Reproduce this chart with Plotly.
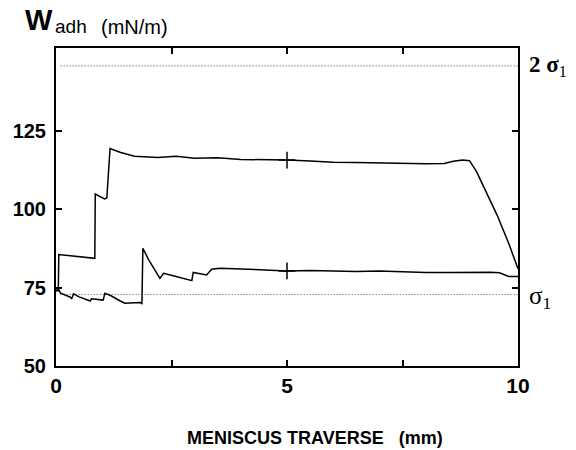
import plotly.graph_objects as go

# Data
upper_x = [0.0, 0.05, 0.06, 0.84, 0.85, 1.05, 1.1, 1.17, 1.4, 1.7, 2.2, 2.6, 3.0, 3.5, 4.0, 4.5,
           5.0, 5.5, 6.0, 6.5, 7.0, 7.5, 8.0, 8.4, 8.6, 8.8, 8.95, 9.1, 9.3, 9.55, 9.8, 10.0]
upper_y = [74, 74, 85.5, 84.3, 104.8, 103.2, 103.5, 119.3, 118, 116.8, 116.4, 116.8, 116.2, 116.3,
           115.8, 115.8, 115.6, 115.3, 114.9, 114.8, 114.6, 114.5, 114.4, 114.5, 115.2, 115.6,
           115.4, 112, 106, 98, 89, 81]

lower_x = [0.0, 0.05, 0.1, 0.3, 0.34, 0.38, 0.5, 0.74, 0.77, 1.02, 1.06, 1.2, 1.39, 1.49, 1.82,
           1.86, 1.88, 2.0, 2.25, 2.33, 2.6, 2.94, 2.97, 3.26, 3.37, 3.55, 4.0, 4.5, 5.0, 5.5,
           6.0, 6.5, 7.0, 7.5, 8.0, 8.5, 9.0, 9.4, 9.6, 9.8, 10.0]
lower_y = [74.5, 74.5, 73.2, 72, 71.5, 73, 72, 70.7, 71.4, 71, 73.2, 72.3, 70.7, 70, 70.2,
           69.9, 87.5, 84, 77.9, 79.5, 78.5, 77.2, 79.8, 79, 80.8, 81.1, 80.9, 80.6, 80.3, 80.4,
           80.2, 80.1, 80.3, 80, 79.8, 79.8, 79.9, 79.9, 79.7, 78.5, 78.5]

marker_x = [5, 5]
marker_y = [115.6, 80.3]

sigma1 = 72.8
two_sigma1 = 145.6
ref_x = [0.1, 10]

x_tickvals = [0, 5, 10]
x_minor_tickvals = [2.5, 7.5]
y_tickvals = [50, 75, 100, 125]

fig = go.Figure()
fig.add_trace(go.Scatter(x=ref_x, y=[two_sigma1, two_sigma1], mode="lines",
                         line=dict(color="#444", width=1, dash="1px,2px"), hoverinfo="skip"))
fig.add_trace(go.Scatter(x=ref_x, y=[sigma1, sigma1], mode="lines",
                         line=dict(color="#444", width=1, dash="1px,2px"), hoverinfo="skip"))
fig.add_trace(go.Scatter(x=upper_x, y=upper_y, mode="lines", line=dict(color="black", width=1.5)))
fig.add_trace(go.Scatter(x=lower_x, y=lower_y, mode="lines", line=dict(color="black", width=1.5)))
fig.add_trace(go.Scatter(x=marker_x, y=marker_y, mode="markers",
                         marker=dict(symbol="cross-thin", size=12, line=dict(color="black", width=1.5))))

sans = "Liberation Sans"
serif = "Liberation Serif"

fig.update_layout(
    width=576, height=450,
    margin=dict(l=56, r=58, t=48, b=84),
    plot_bgcolor="white", paper_bgcolor="white",
    showlegend=False,
    xaxis=dict(range=[0, 10], tickvals=x_tickvals,
               minor=dict(tickvals=x_minor_tickvals, ticks="inside", ticklen=6,
                          tickwidth=1.5, tickcolor="black"),
               showline=True, linecolor="black", linewidth=2, mirror="ticks",
               ticks="inside", ticklen=6, tickwidth=1.5, tickcolor="black",
               showgrid=False, zeroline=False, ticklabelstandoff=0,
               tickfont=dict(family=sans, size=21, color="black", weight="bold")),
    yaxis=dict(range=[50, 151.3], tickvals=y_tickvals,
               showline=True, linecolor="black", linewidth=2, mirror="ticks",
               ticks="inside", ticklen=6, tickwidth=1.5, tickcolor="black",
               showgrid=False, zeroline=False, ticklabelstandoff=4,
               tickfont=dict(family=sans, size=20, color="black", weight="bold")),
)

def px_x(p):
    return (p - 56) / 462

def px_y(p):
    return (366 - p) / 318

fig.add_annotation(xref="paper", yref="paper", x=px_x(23), y=px_y(20),
                   xanchor="left", yanchor="middle", showarrow=False,
                   text="<b>W</b>", font=dict(family=sans, size=29, color="black"))
fig.add_annotation(xref="paper", yref="paper", x=px_x(53), y=px_y(27),
                   xanchor="left", yanchor="middle", showarrow=False,
                   text="adh", font=dict(family=sans, size=19, color="black"))
fig.add_annotation(xref="paper", yref="paper", x=px_x(99), y=px_y(27),
                   xanchor="left", yanchor="middle", showarrow=False,
                   text="(mN/m)", font=dict(family=sans, size=20, color="black"))
fig.add_annotation(xref="paper", yref="paper", x=px_x(315), y=px_y(438),
                   xanchor="center", yanchor="middle", showarrow=False,
                   text="<b>MENISCUS TRAVERSE   (mm)</b>",
                   font=dict(family=sans, size=18, color="black"))
fig.add_annotation(xref="paper", yref="y", x=px_x(527), y=two_sigma1,
                   xanchor="left", yanchor="middle", showarrow=False,
                   text="<b>2 σ</b><sub>1</sub>", font=dict(family=serif, size=23, color="black"))
fig.add_annotation(xref="paper", yref="y", x=px_x(527), y=sigma1 - 1,
                   xanchor="left", yanchor="middle", showarrow=False,
                   text="σ<sub>1</sub>", font=dict(family=serif, size=25, color="black"))

fig.write_html("out.html")
